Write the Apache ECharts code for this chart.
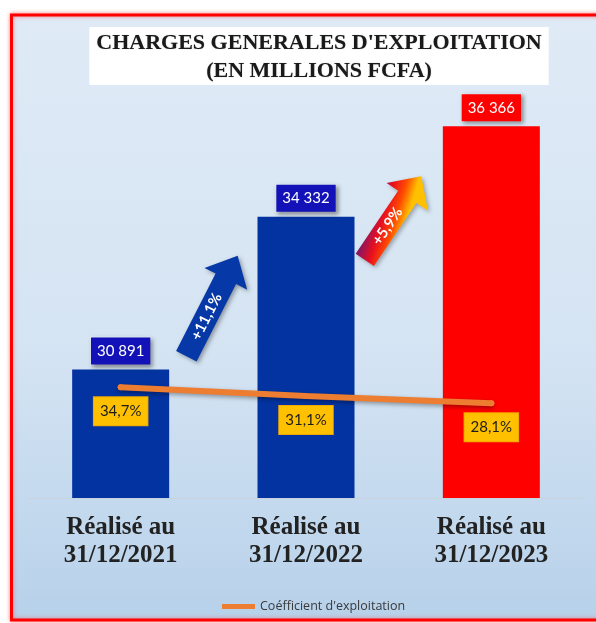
<!DOCTYPE html>
<html style="height: 100%">
<head>
<meta charset="utf-8">
</head>
<body style="height: 100%; margin: 0; background: #fff">
<div id="container" style="width: 596px; height: 623px"></div>
<script src="https://cdn.jsdelivr.net/npm/echarts@6/dist/echarts.min.js"></script>
<script>
// data
var categories = ['Réalisé au\n31/12/2021', 'Réalisé au\n31/12/2022', 'Réalisé au\n31/12/2023'];
var charges = [30891, 34332, 36366];
var coefficient = [34.7, 31.1, 28.1];
var growth = ['+11,1%', '+5,9%'];
var titleLines = ["CHARGES GENERALES D'EXPLOITATION", '(EN MILLIONS FCFA)'];
var legendName = "Coéfficient d'exploitation";

// styles
var barColors = ['#0233a0', '#0233a0', '#ff0000'];
var boxColors = ['#1212b8', '#1212b8', '#ff0000'];

var dom = document.getElementById('container');
var myChart = echarts.init(dom);

function milliers(v) {
	return String(v).replace(/\B(?=(\d{3})+(?!\d))/g, ' ');
}

// arrow shape pointing right, centred on 0,0
function arrowPoints(len, shaftW, headW, headL) {
	var h = len / 2;
	return [[-h, -shaftW / 2], [h - headL, -shaftW / 2], [h - headL, -headW / 2], [h, 0],
		[h - headL, headW / 2], [h - headL, shaftW / 2], [-h, shaftW / 2]];
}

var option = {
	backgroundColor: '#fff',
	title: {
		text: titleLines.join('\n'),
		left: 312,
		top: 27,
		textAlign: 'center',
		backgroundColor: '#fff',
		padding: [2, 7, 0, 7],
		textStyle: {
			fontFamily: 'Liberation Serif',
			fontWeight: 'bold',
			fontSize: 22,
			lineHeight: 28,
			color: '#1a1a1a',
			textShadowColor: 'rgba(0,0,0,0.35)',
			textShadowBlur: 1
		}
	},
	legend: {
		data: [legendName],
		left: 217,
		top: 595,
		icon: 'rect',
		itemWidth: 33,
		itemHeight: 5,
		itemGap: 5,
		textStyle: {
			fontFamily: 'Open Sans',
			fontSize: 12.5,
			color: '#3a3a3a'
		}
	},
	grid: {
		left: 28,
		right: 12,
		top: 76,
		bottom: 125
	},
	xAxis: {
		type: 'category',
		data: categories,
		axisTick: { show: false },
		axisLine: { onZero: false, lineStyle: { color: '#c9d3dd', width: 1 } },
		axisLabel: {
			margin: 16,
			fontFamily: 'Liberation Serif',
			fontWeight: 'bold',
			fontSize: 25,
			lineHeight: 28,
			color: '#222'
		}
	},
	yAxis: [{
		type: 'value',
		min: 28000,
		max: 37500,
		show: false,
		splitLine: { show: false }
	}, {
		type: 'value',
		min: -11,
		max: 163,
		show: false,
		splitLine: { show: false }
	}],
	graphic: [{
		type: 'rect',
		z: -10,
		shape: { x: 11.5, y: 15, width: 620, height: 605 },
		style: {
			fill: new echarts.graphic.LinearGradient(0, 0, 0, 1, [
				{ offset: 0, color: '#dfeaf6' },
				{ offset: 0.55, color: '#d5e4f3' },
				{ offset: 1, color: '#b7d1ea' }
			]),
			stroke: '#ff0000',
			lineWidth: 3,
			shadowBlur: 4,
			shadowColor: 'rgba(255,60,60,0.6)'
		}
	}, {
		type: 'group',
		x: 212,
		y: 306,
		rotation: 63 * Math.PI / 180,
		z: 10,
		children: [{
			type: 'polygon',
			shape: { points: arrowPoints(113, 23, 48, 26) },
			style: {
				fill: '#0638a8',
				shadowBlur: 4,
				shadowOffsetX: 2,
				shadowOffsetY: 2,
				shadowColor: 'rgba(0,0,0,0.35)'
			}
		}, {
			type: 'text',
			x: -12,
			y: 0,
			style: {
				text: growth[0],
				fill: '#fff',
				fontFamily: 'Lato',
				fontWeight: 'bold',
				fontSize: 15,
				align: 'center',
				verticalAlign: 'middle'
			}
		}]
	}, {
		type: 'group',
		x: 393,
		y: 218,
		rotation: 56 * Math.PI / 180,
		z: 10,
		children: [{
			type: 'polygon',
			shape: { points: arrowPoints(101, 22, 50, 25) },
			style: {
				fill: new echarts.graphic.LinearGradient(0, 0, 0.15, 1, [
					{ offset: 0, color: '#3a3aa4' },
					{ offset: 0.3, color: '#8a1660' },
					{ offset: 0.55, color: '#e80f20' },
					{ offset: 0.78, color: '#ff4a00' },
					{ offset: 1, color: '#ffc000' }
				]),
				shadowBlur: 4,
				shadowOffsetX: 2,
				shadowOffsetY: 2,
				shadowColor: 'rgba(0,0,0,0.3)'
			}
		}, {
			type: 'text',
			x: -10,
			y: 0,
			style: {
				text: growth[1],
				fill: '#fff',
				fontFamily: 'Lato',
				fontWeight: 'bold',
				fontSize: 15,
				align: 'center',
				verticalAlign: 'middle'
			}
		}]
	}],
	series: [{
		type: 'bar',
		barWidth: 97,
		data: charges.map(function(v, i) {
			return {
				value: v,
				itemStyle: { color: barColors[i] },
				label: { backgroundColor: boxColors[i] }
			};
		}),
		label: {
			show: true,
			position: 'top',
			distance: 5,
			formatter: function(p) { return milliers(p.value); },
			color: '#fff',
			fontFamily: 'Lato',
			fontSize: 15,
			lineHeight: 17,
			padding: [5, 6],
			borderColor: 'rgba(255,255,255,0.35)',
			borderWidth: 1,
			shadowBlur: 4,
			shadowOffsetX: 2,
			shadowOffsetY: 2,
			shadowColor: 'rgba(0,0,0,0.4)'
		}
	}, {
		name: legendName,
		type: 'line',
		yAxisIndex: 1,
		data: coefficient,
		symbol: 'circle',
		symbolSize: 6,
		itemStyle: { color: '#ed7d31' },
		lineStyle: {
			color: '#ed7d31',
			width: 6,
			cap: 'round',
			shadowBlur: 4,
			shadowOffsetY: 2,
			shadowColor: 'rgba(0,0,0,0.35)'
		},
		label: {
			show: true,
			position: 'bottom',
			distance: 7,
			formatter: function(p) { return String(p.value).replace('.', ',') + '%'; },
			color: '#1c1c1c',
			fontFamily: 'Lato',
			fontSize: 15,
			lineHeight: 18,
			backgroundColor: '#ffc000',
			borderColor: '#f0a800',
			borderWidth: 1,
			padding: [5, 6]
		}
	}]
};

myChart.setOption(option);
</script>
</body>
</html>
